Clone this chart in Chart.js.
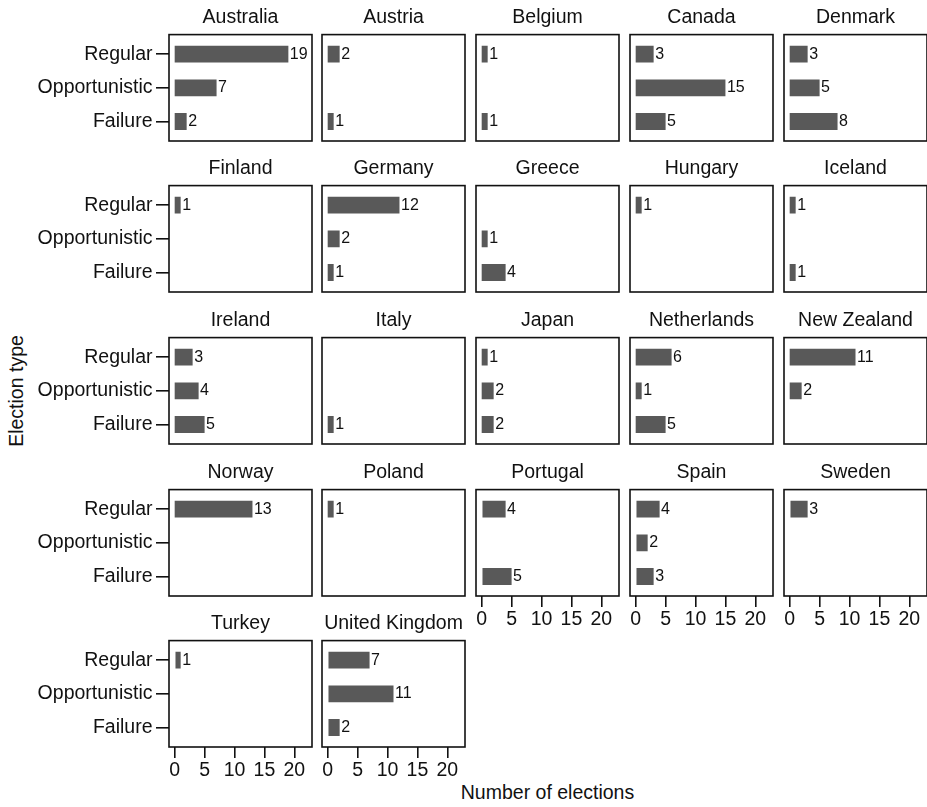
<!DOCTYPE html>
<html>
<head>
<meta charset="utf-8">
<script src="https://cdn.jsdelivr.net/npm/chart.js@4.4.0/dist/chart.umd.min.js"></script>
<style>
  html, body { margin: 0; padding: 0; background: #fff; }
  #wrap { position: relative; width: 927px; height: 807px; overflow: hidden;
          font-family: 'Liberation Sans', Arial, Helvetica, sans-serif; color: #111; }
  #wrap canvas { position: absolute; }
  .axis-title { position: absolute; font-size: 19.5px; line-height: 1; white-space: nowrap; }
  #xTitle { left: 547.5px; top: 793px; transform: translate(-50%, -50%); }
  #yTitle { left: 16.7px; top: 390.5px; transform: translate(-50%, -50%) rotate(-90deg); }
</style>
</head>
<body>
<div id="wrap">
  <div class="axis-title" id="xTitle">Number of elections</div>
  <div class="axis-title" id="yTitle">Election type</div>
</div>
<script>
"use strict";
const countries = ['Australia', 'Austria', 'Belgium', 'Canada', 'Denmark',
    'Finland', 'Germany', 'Greece', 'Hungary', 'Iceland',
    'Ireland', 'Italy', 'Japan', 'Netherlands', 'New Zealand',
    'Norway', 'Poland', 'Portugal', 'Spain', 'Sweden',
    'Turkey', 'United Kingdom'];
const electionTypes = ['Regular', 'Opportunistic', 'Failure'];
const regular = [19, 2, 1, 3, 3, 1, 12, null, 1, 1, 3, null, 1, 6, 11, 13, 1, 4, 4, 3, 1, 7];
const opportunistic = [7, null, null, 15, 5, null, 2, 1, null, null, 4, null, 2, 1, 2, null, null, null, 2, null, null, 11];
const failure = [2, 1, 1, 5, 8, null, 1, 4, null, 1, 5, 1, 2, 5, null, null, null, 5, 3, null, null, 2];
const xTicks = [0, 5, 10, 15, 20];

const series = [regular, opportunistic, failure];
const ink = '#111';
const FONT = "'Liberation Sans', Arial, Helvetica, sans-serif";
Chart.defaults.font.family = FONT;
Chart.defaults.color = ink;

// panel grid
const colX = [169, 322, 476, 630, 784];
const rowY = [34, 185, 337, 489, 640];
const panelW = 143;
const panelH = 107;
const titleH = 28;

// box round every panel
const framePlugin = {
    id: 'panelFrame',
    afterDraw(chart) {
        const { ctx, chartArea: a } = chart;
        ctx.save();
        ctx.strokeStyle = ink;
        ctx.lineWidth = 1.6;
        ctx.strokeRect(a.left, a.top, a.right - a.left, a.bottom - a.top);
        ctx.restore();
    }
};

// count printed at the end of each bar
const valueLabels = {
    id: 'valueLabels',
    afterDatasetsDraw(chart) {
        const ctx = chart.ctx;
        const points = chart.data.datasets[0].data;
        ctx.save();
        ctx.font = '16px ' + FONT;
        ctx.fillStyle = ink;
        ctx.textBaseline = 'middle';
        ctx.textAlign = 'left';
        chart.getDatasetMeta(0).data.forEach((bar, k) => {
            const v = points[k].x;
            if (v == null) return;
            ctx.fillText(String(v), bar.x + 1.5, bar.y);
        });
        ctx.restore();
    }
};

const wrap = document.getElementById('wrap');

countries.forEach((name, i) => {
    const c = i % 5;
    const r = Math.floor(i / 5);
    const hasX = i + 5 >= countries.length;
    const hasY = c === 0;
    const L = hasY ? colX[0] : 2;
    // room under the box: tick labels, or just enough for the y label padding
    const B = hasX ? 40 : 18;

    const canvas = document.createElement('canvas');
    canvas.width = L + panelW + 2;
    canvas.height = titleH + panelH + B;
    canvas.style.left = (colX[c] - L) + 'px';
    canvas.style.top = (rowY[r] - titleH) + 'px';
    wrap.appendChild(canvas);

    new Chart(canvas, {
        type: 'bar',
        data: {
            datasets: [{
                data: electionTypes.map((t, k) => ({ x: series[k][i], y: k + 1 })),
                backgroundColor: '#595959',
                borderWidth: 0,
                barPercentage: 0.5,
                categoryPercentage: 1
            }]
        },
        options: {
            responsive: false,
            animation: false,
            indexAxis: 'y',
            layout: { padding: { right: 2 } },
            plugins: {
                legend: { display: false },
                tooltip: { enabled: false },
                title: {
                    display: true,
                    text: name,
                    fullSize: false,
                    color: ink,
                    font: { size: 19.5, weight: 'normal' },
                    padding: { top: 0, bottom: 5.2 }
                }
            },
            scales: {
                x: {
                    type: 'linear',
                    min: -0.95,
                    max: 22.95,
                    afterBuildTicks: s => { s.ticks = xTicks.map(v => ({ value: v })); },
                    afterFit: s => { s.height = B; },
                    border: { display: false },
                    grid: { display: hasX, drawOnChartArea: false, tickLength: 11, color: ink, lineWidth: 1.6 },
                    ticks: { display: hasX, padding: 1, font: { size: 19.5 }, color: ink, maxRotation: 0, autoSkip: false }
                },
                y: {
                    type: 'linear',
                    reverse: true,
                    offset: false,
                    min: 0.42,
                    max: 3.58,
                    afterBuildTicks: s => { s.ticks = electionTypes.map((t, k) => ({ value: k + 1 })); },
                    afterFit: s => { s.width = L; },
                    border: { display: false },
                    grid: { display: hasY, offset: false, drawOnChartArea: false, tickLength: 13, color: ink, lineWidth: 1.6 },
                    ticks: {
                        display: hasY, padding: 3.5, font: { size: 19.5 }, color: ink, autoSkip: false,
                        callback: v => electionTypes[v - 1]
                    }
                }
            }
        },
        plugins: [framePlugin, valueLabels]
    });
});
</script>
</body>
</html>
